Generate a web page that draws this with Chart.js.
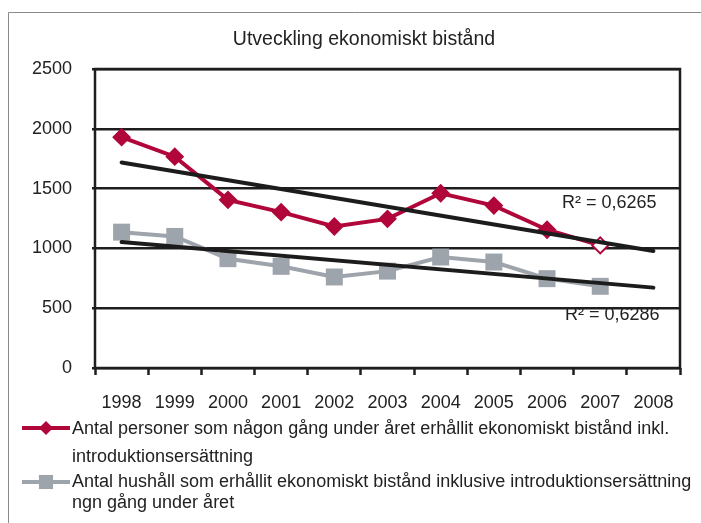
<!DOCTYPE html>
<html>
<head>
<meta charset="utf-8">
<script src="https://cdn.jsdelivr.net/npm/chart.js@4/dist/chart.umd.min.js"></script>
<style>
  html, body { margin: 0; padding: 0; background: #fff; }
  #wrap { width: 701px; height: 523px; position: relative; }
</style>
</head>
<body>
<div id="wrap"><canvas id="myChart" width="701" height="523"></canvas></div>
<script>
// data
var years = ['1998', '1999', '2000', '2001', '2002', '2003', '2004', '2005', '2006', '2007', '2008'];
var personer = [1930, 1767, 1406, 1303, 1183, 1247, 1461, 1358, 1156, 1025, null];
var hushall = [1136, 1100, 914, 850, 761, 810, 928, 886, 747, 683, null];
// trend lines, end points only
var trendPersoner = [1719, null, null, null, null, null, null, null, null, null, 978];
var trendHushall = [1053, null, null, null, null, null, null, null, null, null, 672];
var rSquared = ['R² = 0,6265', 'R² = 0,6286'];
var yTicks = [0, 500, 1000, 1500, 2000, 2500];

var legendLines = [
    ['Antal personer som någon gång under året erhållit ekonomiskt bistånd inkl.', 'introduktionsersättning'],
    ['Antal hushåll som erhållit ekonomiskt bistånd inklusive introduktionsersättning', 'ngn gång under året']
];

var FONT = "'Liberation Sans', Arial, sans-serif";
var RED = '#b0063a';
var GREY = '#9ea4ab';

var extras = {
    id: 'extras',
    afterDraw: function (chart) {
        var ctx = chart.ctx;
        var a = chart.chartArea;
        ctx.save();
        // outer frame
        ctx.strokeStyle = '#8a8a8a';
        ctx.lineWidth = 1;
        ctx.beginPath();
        ctx.moveTo(8.5, 523);
        ctx.lineTo(8.5, 12.5);
        ctx.lineTo(701, 12.5);
        ctx.stroke();
        // plot box
        ctx.strokeStyle = '#1e1e1e';
        ctx.lineWidth = 2.5;
        ctx.strokeRect(a.left, a.top, a.right - a.left, a.bottom - a.top);

        ctx.fillStyle = '#222';
        ctx.textBaseline = 'middle';
        // title
        ctx.font = '19.5px ' + FONT;
        ctx.textAlign = 'center';
        ctx.fillText('Utveckling ekonomiskt bistånd', 364, 40);
        // R² labels
        ctx.font = '18px ' + FONT;
        ctx.textAlign = 'left';
        ctx.fillText(rSquared[0], 562, 203);
        ctx.fillText(rSquared[1], 565, 315);

        // legend
        var items = [
            { color: RED, style: 'rectRot', r: 7, y: 428, ys: [429, 457] },
            { color: GREY, style: 'rect', r: 10, y: 482, ys: [482, 503] }
        ];
        items.forEach(function (it, i) {
            ctx.strokeStyle = it.color;
            ctx.lineWidth = 4;
            ctx.beginPath();
            ctx.moveTo(22, it.y);
            ctx.lineTo(70, it.y);
            ctx.stroke();
            ctx.fillStyle = it.color;
            Chart.helpers.drawPoint(ctx, { pointStyle: it.style, radius: it.r, borderWidth: 0 }, 46, it.y);
            ctx.fillStyle = '#222';
            ctx.fillText(legendLines[i][0], 72, it.ys[0]);
            ctx.fillText(legendLines[i][1], 72, it.ys[1]);
        });
        ctx.restore();
    }
};

var ctx = document.getElementById('myChart').getContext('2d');

var chart = new Chart(ctx, {
    type: 'line',
    data: {
        labels: years,
        datasets: [{
            label: 'trend personer',
            data: trendPersoner,
            borderColor: '#1c1c1c',
            borderWidth: 4,
            pointRadius: 0,
            spanGaps: true,
            borderCapStyle: 'round',
            order: 0
        }, {
            label: 'trend hushåll',
            data: trendHushall,
            borderColor: '#1c1c1c',
            borderWidth: 4,
            pointRadius: 0,
            spanGaps: true,
            borderCapStyle: 'round',
            order: 0
        }, {
            label: legendLines[0].join(' '),
            data: personer,
            borderColor: RED,
            backgroundColor: [RED, RED, RED, RED, RED, RED, RED, RED, RED, '#fff', RED],
            pointBorderColor: RED,
            borderWidth: 4,
            pointStyle: 'rectRot',
            pointRadius: 8,
            pointBorderWidth: 2,
            order: 1
        }, {
            label: legendLines[1].join(' '),
            data: hushall,
            borderColor: GREY,
            backgroundColor: GREY,
            borderWidth: 4,
            pointStyle: 'rect',
            pointRadius: 12,
            pointBorderWidth: 0,
            order: 2
        }]
    },
    options: {
        responsive: false,
        animation: false,
        elements: {
            line: { tension: 0 }
        },
        layout: {
            padding: { left: 0, right: 21, top: 69, bottom: 0 }
        },
        plugins: {
            legend: { display: false },
            title: { display: false },
            tooltip: { enabled: false }
        },
        scales: {
            x: {
                offset: true,
                grid: {
                    offset: true,
                    drawOnChartArea: false,
                    color: '#1e1e1e',
                    tickColor: '#1e1e1e',
                    tickLength: 7,
                    tickWidth: 2.5
                },
                border: { display: false },
                ticks: {
                    color: '#222',
                    font: { family: FONT, size: 18 },
                    padding: 17,
                    maxRotation: 0,
                    autoSkip: false
                },
                afterFit: function (scale) { scale.height = 155; }
            },
            y: {
                min: 0,
                max: 2500,
                afterBuildTicks: function (scale) {
                    scale.ticks = yTicks.map(function (v) { return { value: v }; });
                },
                grid: {
                    color: '#1e1e1e',
                    lineWidth: 2.5,
                    tickLength: 3
                },
                border: { display: false },
                ticks: {
                    color: '#222',
                    font: { family: FONT, size: 18 },
                    padding: 20,
                    callback: function (v) { return String(v); }
                },
                afterFit: function (scale) { scale.width = 95; }
            }
        }
    },
    plugins: [extras]
});
</script>
</body>
</html>
